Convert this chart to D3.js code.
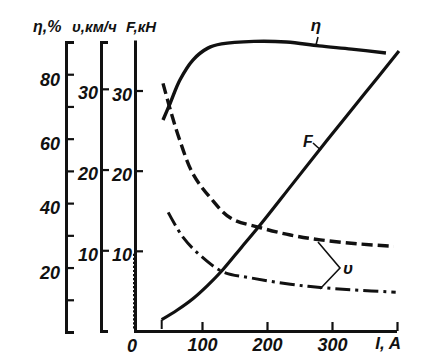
<!DOCTYPE html>
<html>
<head>
<meta charset="utf-8">
<script src="https://cdnjs.cloudflare.com/ajax/libs/d3/7.8.5/d3.min.js"></script>
<style>
  body { margin: 0; background: #fff; }
  text { font-family: "Liberation Sans Narrow", "Liberation Sans", sans-serif; font-style: italic; font-weight: bold; fill: #111; }
</style>
</head>
<body>
<script>
// efficiency curve
var etaCurrent = [40, 51, 66, 86, 109, 130, 180, 230, 280, 330, 383];
var etaValues = [65.8, 71, 78.2, 84.4, 88.1, 89.4, 90.2, 90, 88.8, 87.8, 86.6];

// tractive force
var forceCurrent = [38, 62, 86, 108, 131, 160, 190, 240, 293, 350, 403];
var forceValues = [1.4, 2.6, 4.0, 5.6, 7.5, 10.3, 13.2, 18.3, 23.7, 29.4, 34.7];

// speed, dashed
var speed1Current = [40, 51, 66, 86, 113, 144, 190, 236, 282, 340, 395];
var speed1Values = [30.7, 27.5, 23.6, 19.5, 16.5, 14, 12.8, 11.9, 11.3, 10.8, 10.5];

// speed, dash-dot
var speed2Current = [48, 71, 97, 133, 174, 236, 282, 333, 398];
var speed2Values = [14.7, 11.6, 9.4, 7.3, 6.6, 5.8, 5.4, 5.1, 4.8];

var etaTicks = [20, 40, 60, 80];
var etaMinor = [10, 30, 50, 70, 90];
var speedTicks = [10, 20, 30];
var forceTicks = [10, 20, 30];
var forceMinor = d3.range(0.5, 10, 0.5);
var currentTicks = [100, 200, 300, 400];

var svg = d3.select('body').append('svg')
  .attr('width', 424)
  .attr('height', 360);

var x = d3.scaleLinear().domain([0, 400]).range([137, 397]);
var yEta = d3.scaleLinear().domain([0, 90]).range([332, 42]);
var yV = d3.scaleLinear().domain([0, 30]).range([331, 89]);
var yF = d3.scaleLinear().domain([0, 30]).range([331, 89]);

var ink = '#111';

var styleAxis = function(g, w) {
  g.select('.domain').attr('stroke', ink).attr('stroke-width', w);
  g.selectAll('.tick line').attr('stroke', ink).attr('stroke-width', 2.2);
  g.selectAll('.tick text').attr('font-size', 18).attr('fill', ink)
    .style('font-family', '"Liberation Sans Narrow", sans-serif');
};

// eta axis
var etaAxis = svg.append('g').attr('transform', 'translate(66,0)')
  .call(d3.axisLeft(yEta).tickValues(etaTicks).tickSize(-8).tickSizeOuter(-8).tickPadding(6));
etaAxis.call(styleAxis, 3);
etaAxis.selectAll('.tick text').attr('dy', '0.6em');
svg.append('g').attr('transform', 'translate(66,0)')
  .call(d3.axisLeft(yEta).tickValues(etaMinor).tickSize(-8).tickFormat(''))
  .call(function(g) { g.select('.domain').remove(); })
  .call(styleAxis, 3);

// speed axis
var vAxis = svg.append('g').attr('transform', 'translate(101,0)')
  .call(d3.axisLeft(yV.copy().domain([0, 35.8]).range([331, 42])).tickValues(speedTicks)
    .tickSize(-8).tickSizeOuter(-7).tickPadding(3));
vAxis.call(styleAxis, 3);
vAxis.selectAll('.tick text').attr('dy', '0.55em');

// force axis
var fAxis = svg.append('g').attr('transform', 'translate(135,0)')
  .call(d3.axisLeft(yF.copy().domain([0, 36.3]).range([331, 40])).tickValues(forceTicks)
    .tickSize(-8).tickSizeOuter(0).tickPadding(3));
fAxis.call(styleAxis, 3);
fAxis.selectAll('.tick text').attr('dy', '0.55em');
svg.append('g').attr('transform', 'translate(135,0)')
  .call(d3.axisLeft(yF).tickValues(forceMinor).tickSize(2).tickFormat(''))
  .call(function(g) { g.select('.domain').remove(); })
  .call(styleAxis, 2);

// current axis
var xAxis = svg.append('g').attr('transform', 'translate(0,331)')
  .call(d3.axisBottom(x).tickValues(currentTicks).tickSize(-9).tickSizeOuter(0).tickPadding(7)
    .tickFormat(function(d) { return d == 400 ? '' : d; }));
xAxis.call(styleAxis, 3);
xAxis.select('.domain').attr('d', 'M134,0.5H' + x(400));

svg.append('text').attr('x', 132).attr('y', 352).attr('text-anchor', 'middle')
  .attr('font-size', 18).text('0');
svg.append('text').attr('x', 401).attr('y', 349).attr('text-anchor', 'end')
  .attr('font-size', 17).text('I, A');

// axis titles
svg.append('text').attr('x', 33).attr('y', 32).attr('font-size', 16).text('η,%');
svg.append('text').attr('x', 72).attr('y', 32).attr('font-size', 15).text('υ,км/ч');
svg.append('text').attr('x', 126).attr('y', 32).attr('font-size', 15).text('F,кН');

var line = function(xs, ys, yScale) {
  return d3.line()
    .x(function(d, i) { return x(xs[i]); })
    .y(function(d, i) { return yScale(ys[i]); })
    .curve(d3.curveCatmullRom.alpha(0.5))(xs);
};

svg.append('path').attr('d', line(etaCurrent, etaValues, yEta))
  .attr('fill', 'none').attr('stroke', ink).attr('stroke-width', 3.4);

svg.append('path').attr('d', line(forceCurrent, forceValues, yF))
  .attr('fill', 'none').attr('stroke', ink).attr('stroke-width', 3.2);

svg.append('path').attr('d', line(speed1Current, speed1Values, yV))
  .attr('fill', 'none').attr('stroke', ink).attr('stroke-width', 3.4)
  .attr('stroke-dasharray', '11,5');

svg.append('path').attr('d', line(speed2Current, speed2Values, yV))
  .attr('fill', 'none').attr('stroke', ink).attr('stroke-width', 3)
  .attr('stroke-dasharray', '15,5,3,5');

// drop mark at start of F
svg.append('line')
  .attr('x1', x(forceCurrent[0])).attr('x2', x(forceCurrent[0]))
  .attr('y1', yF(forceValues[0])).attr('y2', 329)
  .attr('stroke', ink).attr('stroke-width', 2);

// curve labels
svg.append('text').attr('x', 316).attr('y', 31).attr('text-anchor', 'middle')
  .attr('font-size', 17).text('η');
svg.append('line').attr('x1', 318).attr('y1', 37).attr('x2', 316).attr('y2', 45)
  .attr('stroke', ink).attr('stroke-width', 1.5);

svg.append('text').attr('x', 303).attr('y', 147).attr('font-size', 16).text('F');
svg.append('path').attr('d', 'M313,143Q316,146 321,150')
  .attr('fill', 'none').attr('stroke', ink).attr('stroke-width', 1.5);

svg.append('path').attr('d', 'M318,242L340,268L320,289')
  .attr('fill', 'none').attr('stroke', ink).attr('stroke-width', 1.6);
svg.append('text').attr('x', 343).attr('y', 274).attr('font-size', 17).text('υ');
</script>
</body>
</html>
